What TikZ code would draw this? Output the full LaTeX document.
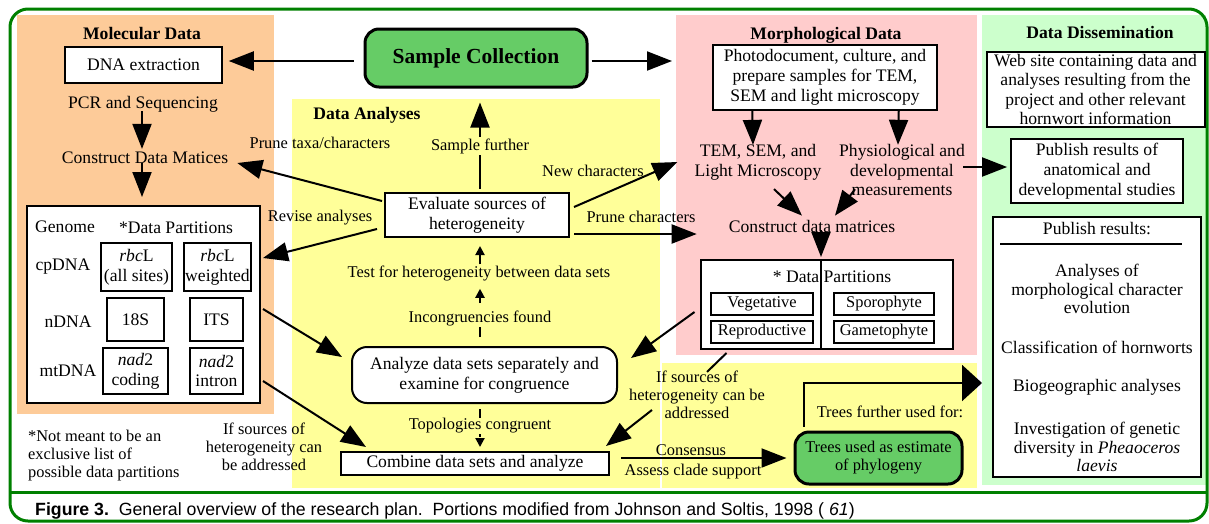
\documentclass[tikz,border=0pt]{standalone}
\usepackage{fontspec}
\setmainfont{Liberation Serif}
\newfontfamily\capfont{Liberation Sans}
\usetikzlibrary{arrows.meta,calc}
\definecolor{framegreen}{RGB}{0,128,0}
\definecolor{molbg}{RGB}{253,203,153}
\definecolor{anbg}{RGB}{255,255,153}
\definecolor{morbg}{RGB}{255,204,204}
\definecolor{disbg}{RGB}{204,255,204}
\definecolor{boxgreen}{RGB}{102,204,102}
\tikzset{
  txt/.style={font=\fontsize{17.6}{19.8}\selectfont, inner sep=1pt, align=center},
  sml/.style={font=\fontsize{16.4}{18}\selectfont, inner sep=1pt, align=center},
  ttl/.style={font=\fontsize{17.6}{20}\selectfont\bfseries, inner sep=1pt},
  mbox/.style={txt, draw, line width=1.8pt, fill=white, inner sep=0pt},
  sbox/.style={sml, draw, line width=2pt, fill=white, inner sep=0pt, minimum height=22pt},
  bgr/.style={draw=none, inner sep=0pt, outer sep=0pt},
  arr/.style={line width=2pt, -{Triangle[length=25pt,width=19pt]}},
  sarr/.style={line width=2pt, -{Triangle[length=9pt,width=9pt]}},
  dsh/.style={dash pattern=on 11pt off 6pt}
}
\begin{document}
\begin{tikzpicture}[x=1pt,y=-1pt]
\useasboundingbox (0,0) rectangle (1209,523);
\fill[white] (0,0) rectangle (1209,523);
% backgrounds
\node[bgr, fill=molbg, minimum width=257pt, minimum height=399pt] (molbg) at (145.5,214.5) {};
\node[bgr, fill=anbg, minimum width=368pt, minimum height=389pt] (anbg1) at (476,293.5) {};
\node[bgr, fill=anbg, minimum width=315pt, minimum height=125pt] (anbg2) at (819.5,425.5) {};
\node[bgr, fill=morbg, minimum width=301pt, minimum height=340pt] (morbg) at (826.5,185) {};
\node[bgr, fill=disbg, minimum width=224pt, minimum height=470pt] (disbg) at (1094,250) {};
% frame
\draw[framegreen, line width=3pt, rounded corners=18pt] (10,9) rectangle (1207,521);
\draw[framegreen, line width=3pt] (10,492) -- (1207,492);

% sample collection
\node[mbox, fill=boxgreen, line width=3pt, rounded corners=14pt, minimum width=222pt, minimum height=58pt, font=\fontsize{21.5}{24}\selectfont\bfseries] (sample) at (476,58) {Sample Collection};

% molecular
\node[ttl] (moltitle) at (142,33) {Molecular Data};
\node[mbox, line width=1.5pt, minimum width=157pt, minimum height=36pt] (dna) at (143.5,65) {DNA extraction};
\node[txt] (pcr) at (143,104) {PCR and Sequencing};
\node[txt] (cdmL) at (145,158) {Construct Data Matices};
\node[mbox, line width=2pt, minimum width=233pt, minimum height=197pt] (genome) at (143.5,304.5) {};
\node[txt] (genlbl) at (65,227) {Genome};
\node[txt] (dplbl) at (176,228) {*Data Partitions};
\node[txt] (cplbl) at (63,267) {cpDNA};
\node[txt] (nlbl) at (68,322) {nDNA};
\node[txt] (mtlbl) at (68,371) {mtDNA};
\node[mbox, line width=2pt, minimum width=71pt, minimum height=48pt] (rbc1) at (136.5,267) {\textit{rbc}L\\(all sites)};
\node[mbox, line width=2pt, minimum width=67pt, minimum height=48pt] (rbc2) at (217.5,267) {\textit{rbc}L\\weighted};
\node[mbox, line width=2pt, minimum width=57pt, minimum height=43pt] (s18) at (135.5,319.5) {18S};
\node[mbox, line width=2pt, minimum width=53pt, minimum height=43pt] (its) at (216.5,319.5) {ITS};
\node[mbox, line width=2pt, minimum width=65pt, minimum height=46pt] (nadc) at (135.5,371) {\textit{nad}2\\coding};
\node[mbox, line width=2pt, minimum width=53pt, minimum height=46pt] (nadi) at (216.5,371) {\textit{nad}2\\intron};
\node[sml, align=left, anchor=west] (note) at (27,456) {*Not meant to be an\\exclusive list of\\possible data partitions};
\node[sml] (ifsrc1) at (264,447) {If sources of\\heterogeneity can\\be addressed};

% analyses
\node[ttl] (antitle) at (367,115) {Data Analyses};
\node[sml] (prune1) at (320,143) {Prune taxa/characters};
\node[sml] (revise) at (320,218) {Revise analyses};
\node[mbox, line width=2pt, minimum width=184pt, minimum height=44pt] (evaluate) at (477,215) {Evaluate sources of\\heterogeneity};
\node[sml] (test) at (479,273) {Test for heterogeneity between data sets};
\node[mbox, line width=2pt, rounded corners=15pt, minimum width=265pt, minimum height=56pt] (analyze) at (484.5,375) {Analyze data sets separately and\\examine for congruence};
\node[mbox, line width=2pt, minimum width=268pt, minimum height=23pt] (combine) at (475,463.5) {Combine data sets and analyze};
\node[sml] (newch) at (593,171) {New characters};
\node[sml] (prune2) at (641,217) {Prune characters};

% morphological
\node[ttl] (mortitle) at (826,35) {Morphological Data};
\node[mbox, line width=1.5pt, minimum width=224pt, minimum height=65pt] (photo) at (825,77.5) {Photodocument, culture, and\\prepare samples for TEM,\\SEM and light microscopy};
\node[txt] (tem) at (758,162) {TEM, SEM, and\\Light Microscopy};
\node[txt] (phys) at (902,170) {Physiological and\\developmental\\measurements};
\node[txt] (cdm) at (812,226) {Construct data matrices};
\node[mbox, line width=2pt, minimum width=252pt, minimum height=89pt] (mpart) at (826.5,304.5) {};
\draw[line width=2pt] ($(mpart.north)+(-5.5,0)$) -- ($(mpart.south)+(-5.5,0)$);
\node[txt] (mdp) at (832,277) {* Data Partitions};
\node[sbox, minimum width=102pt] (veg) at (762,304) {Vegetative};
\node[sbox, minimum width=102pt] (rep) at (762,332) {Reproductive};
\node[sbox, minimum width=100pt] (spo) at (884,304) {Sporophyte};
\node[sbox, minimum width=100pt] (gam) at (884,332) {Gametophyte};
\node[sml] (ifsrc2) at (697,395) {If sources of\\heterogeneity can be\\addressed};
\node[sml] (cons) at (691,450) {Consensus};
\node[sml] (assess) at (693,472) {Assess clade support};
\node[mbox, sml, fill=boxgreen, line width=3pt, rounded corners=14pt, minimum width=167pt, minimum height=52pt, inner sep=0pt] (trees) at (878.5,458) {Trees used as estimate\\of phylogeny};
\node[sml] (further) at (890,412) {Trees further used for:};

% dissemination
\node[ttl] (distitle) at (1100,32) {Data Dissemination};
\node[mbox, line width=2pt, minimum width=218pt, minimum height=75pt, font=\fontsize{17.6}{19.3}\selectfont] (web) at (1095.5,89.5) {Web site containing data and\\analyses resulting from the\\project and other relevant\\hornwort information};
\node[mbox, minimum width=172pt, minimum height=64pt] (pub1) at (1097,171) {Publish results of\\anatomical and\\developmental studies};
\node[mbox, line width=2pt, minimum width=208pt, minimum height=260pt] (pub2) at (1097,347) {};
\node[txt] (pr) at (1097,229) {Publish results:};
\draw[line width=1.5pt] ($(pub2.north west)+(8,28)$) -- ($(pub2.north east)+(-20,28)$);
\node[txt, font=\fontsize{17.6}{18.7}\selectfont] (an1) at (1097,289) {Analyses of\\morphological character\\evolution};
\node[txt] (cls) at (1097,347) {Classification of hornworts};
\node[txt] (bio) at (1097,387) {Biogeographic analyses};
\node[txt, font=\fontsize{17.6}{18.7}\selectfont] (inv) at (1097,447) {Investigation of genetic\\diversity in \textit{Pheaoceros}\\\textit{laevis}};

% connectors
\draw[arr] ($(sample.west)+(-10,3)$) -- ($(dna.east)+(6,-4)$);
\draw[arr] ($(sample.east)+(3,3)$) -- ($(morbg.west)+(-4,-124)$);
\draw[arr] ($(evaluate.north)+(3,-3)$) -- ($(sample.south)+(4,14)$);
\node[sml, fill=anbg] (sfurther) at (480,146) {Sample further};
\draw[arr] ($(pcr.south)+(-1,-2)$) -- ($(cdmL.north)+(-3,-2)$);
\draw[arr] ($(cdmL.south)+(-3,-2)$) -- ($(genome.north)+(-1.5,-8)$);
\draw[arr] ($(evaluate.west)+(-2,-14)$) -- ($(cdmL.east)+(8,5)$);
\draw[arr] ($(evaluate.west)+(-7,14)$) -- ($(genome.east)+(2,-46.5)$);
\draw[arr] ($(evaluate.east)+(4,-8)$) -- ($(tem.west)+(-16,0)$);
\draw[arr] ($(evaluate.east)+(4,19)$) -- ($(cdm.west)+(-31,8)$);
\draw[sarr] ($(test.north)+(1,0)$) -- ($(evaluate.south)+(3,8)$);
\draw[sarr, dsh] ($(analyze.north)+(-4.5,-9)$) -- ($(test.south)+(1,7)$);
\node[sml, fill=anbg] (incong) at (480,318) {Incongruencies found};
\draw[sarr, dsh] ($(analyze.south)+(-4.5,5)$) -- ($(combine.north)+(5,-4)$);
\node[sml, fill=anbg] (topo) at (480,426) {Topologies congruent};
\draw[arr] ($(genome.east)+(2,4.5)$) -- ($(analyze.west)+(-9,-18)$);
\draw[arr] ($(genome.east)+(2,76.5)$) -- ($(combine.north west)+(26,-4)$);
\draw[arr] ($(mpart.west)+(-5,7.5)$) -- ($(analyze.east)+(13,-17)$);
\draw[line width=2pt] ($(mpart.south west)+(27,3)$) -- ($(ifsrc2.north)+(10,2)$);
\draw[arr] ($(ifsrc2.west)+(24,15)$) -- ($(combine.north east)+(-4,-5)$);
\draw[arr] ($(combine.east)+(11,-5.5)$) -- ($(trees.west)+(-7,0)$);
\draw[line width=2pt, -{Triangle[length=20pt,width=36pt]}] ($(trees.north west)+(10,-4)$) |- ($(pub2.west)+(-10,36)$);
\draw[arr] ($(photo.south west)+(40,0)$) -- ($(tem.north)+(-5,2)$);
\draw[arr] ($(photo.south east)+(-39,0)$) -- ($(phys.north)+(-4,2)$);
\draw[arr] ($(tem.south)+(16,8)$) -- ($(cdm.north)+(-10,-3)$);
\draw[arr] ($(phys.south)+(-47,-8)$) -- ($(cdm.north)+(23,-3)$);
\draw[arr] ($(cdm.south)+(9,-3)$) -- ($(mpart.north)+(-5.5,-2)$);
\draw[arr] ($(phys.east)+(-3,-3)$) -- ($(pub1.west)+(-3,-4)$);

% caption
\node[anchor=base west, inner sep=0pt, font=\capfont\fontsize{17.7}{19}\selectfont] (caption) at (35,515) {\textbf{Figure 3.}\ \ General overview of the research plan.\ \ Portions modified from Johnson and Soltis, 1998 ( \textit{61})};
\end{tikzpicture}
\end{document}
